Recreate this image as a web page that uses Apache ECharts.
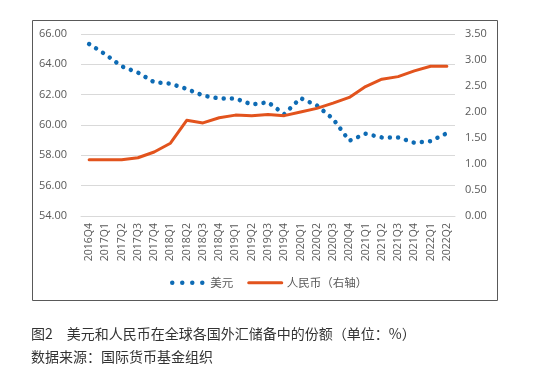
<!DOCTYPE html>
<html>
<head>
<meta charset="utf-8">
<script src="https://cdn.jsdelivr.net/npm/echarts@6/dist/echarts.min.js"></script>
<style>
html,body{margin:0;padding:0;background:#fff;}
#chart{width:540px;height:383px;}
</style>
</head>
<body>
<div id="chart"></div>
<script>
var categories = ['2016Q4','2017Q1','2017Q2','2017Q3','2017Q4','2018Q1','2018Q2','2018Q3','2018Q4','2019Q1','2019Q2','2019Q3','2019Q4','2020Q1','2020Q2','2020Q3','2020Q4','2021Q1','2021Q2','2021Q3','2021Q4','2022Q1','2022Q2'];
var usdValues = [65.34, 64.66, 63.87, 63.46, 62.82, 62.73, 62.38, 61.94, 61.75, 61.75, 61.35, 61.50, 60.72, 61.77, 61.29, 60.41, 58.96, 59.42, 59.18, 59.18, 58.83, 58.94, 59.46];
var cnyValues = [1.08, 1.08, 1.08, 1.12, 1.23, 1.40, 1.84, 1.79, 1.89, 1.94, 1.93, 1.95, 1.93, 2.00, 2.07, 2.17, 2.28, 2.49, 2.63, 2.68, 2.79, 2.88, 2.88];
var seriesNames = ['美元', '人民币（右轴）'];
var captionLines = ['图2　美元和人民币在全球各国外汇储备中的份额（单位：%）', '数据来源：国际货币基金组织'];

var numFont = 'Open Sans, Noto Sans, Noto Sans CJK SC, sans-serif';
var cjkFont = 'Noto Sans CJK SC, sans-serif';
var labelColor = '#595959';
var usdColor = '#0e6bb4';
var cnyColor = '#e2531d';

var chart = echarts.init(document.getElementById('chart'), null, {renderer: 'canvas'});
chart.setOption({
  animation: false,
  backgroundColor: '#ffffff',
  grid: {left: 81, right: 85, top: 34, bottom: 167, containLabel: false},
  legend: {
    left: 165, top: 272,
    itemWidth: 33, itemHeight: 12, itemGap: 14,
    itemStyle: {opacity: 0},
    textStyle: {fontFamily: cjkFont, fontSize: 11.5, color: labelColor},
    data: [
      {name: seriesNames[0], lineStyle: {color: usdColor, width: 4.5, type: [0.01, 10], cap: 'round'}},
      {name: seriesNames[1], lineStyle: {color: cnyColor, width: 3}}
    ]
  },
  xAxis: {
    type: 'category',
    data: categories,
    boundaryGap: true,
    axisLine: {show: true, lineStyle: {color: '#d9d9d9', width: 1}},
    axisTick: {show: false},
    axisLabel: {rotate: 90, margin: 7, fontFamily: numFont, fontSize: 10.5, color: labelColor, interval: 0}
  },
  yAxis: [
    {
      type: 'value', min: 54, max: 66, interval: 2,
      axisLine: {show: false}, axisTick: {show: false},
      splitLine: {show: true, lineStyle: {color: '#d9d9d9', width: 1}},
      axisLabel: {margin: 14, fontFamily: numFont, fontSize: 11, color: labelColor,
        formatter: function (v) { return v.toFixed(2); }}
    },
    {
      type: 'value', min: 0, max: 3.5, interval: 0.5, position: 'right',
      axisLine: {show: false}, axisTick: {show: false},
      splitLine: {show: false},
      axisLabel: {margin: 10, fontFamily: numFont, fontSize: 11, color: labelColor,
        formatter: function (v) { return v.toFixed(2); }}
    }
  ],
  series: [
    {
      name: seriesNames[0], type: 'line', yAxisIndex: 0,
      data: usdValues, symbol: 'none', smooth: false,
      itemStyle: {color: usdColor},
      lineStyle: {color: usdColor, width: 4.5, type: [0.01, 8.2], cap: 'round', join: 'round'}
    },
    {
      name: seriesNames[1], type: 'line', yAxisIndex: 1,
      data: cnyValues, symbol: 'none', smooth: false,
      itemStyle: {color: cnyColor},
      lineStyle: {color: cnyColor, width: 3, cap: 'round', join: 'round'}
    }
  ],
  graphic: [
    {type: 'rect', silent: true, shape: {x: 32.5, y: 20.5, width: 465, height: 280},
     style: {fill: 'none', stroke: '#595959', lineWidth: 1}},
    {type: 'text', left: 31, top: 327, silent: true,
     style: {text: captionLines[0], font: '14px Noto Sans CJK SC', fill: '#333333'}},
    {type: 'text', left: 31, top: 350, silent: true,
     style: {text: captionLines[1], font: '14px Noto Sans CJK SC', fill: '#333333'}}
  ]
});
</script>
</body>
</html>
